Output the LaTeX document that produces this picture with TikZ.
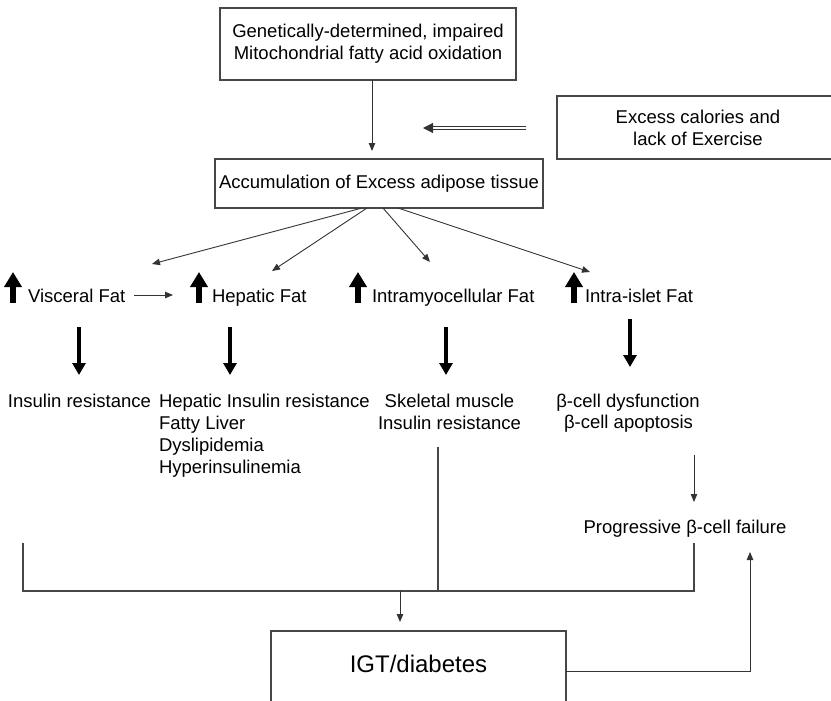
\documentclass[tikz,border=0pt]{standalone}
\usepackage{fontspec}
\setmainfont{Liberation Sans}
\usetikzlibrary{arrows.meta,calc}
\begin{document}
\begin{tikzpicture}[x=1pt,y=-1pt,
  every node/.style={font=\fontsize{18.5}{22.2}\selectfont, inner sep=0pt, outer sep=0pt},
  box/.style={draw=black!72, line width=1.3pt},
  conn/.style={draw=black!72, line width=1.1pt},
  tarr/.style={draw=black!80, line width=0.9pt, -{Triangle[width=6.5pt,length=8pt]}},
  dbl/.style={draw=black!80, line width=0.8pt, double=white, double distance=1.8pt, -{Triangle[width=10pt,length=10pt]}},
  uparr/.style={line width=6pt, -{Triangle[width=17pt,length=15pt]}},
  dnarr/.style={line width=4.5pt, -{Triangle[width=13pt,length=12pt]}},
]
\useasboundingbox (0,0) rectangle (831,701);
\clip (0,0) rectangle (831,701);

% boxes
\node[box, minimum width=296pt, minimum height=72pt, align=center] (top) at (368,44)
  {Genetically-determined, impaired\\Mitochondrial fatty acid oxidation};
\node[box, minimum width=328pt, minimum height=49pt] (acc) at (379,183.5)
  {Accumulation of Excess adipose tissue};
\node[box, minimum width=282pt, minimum height=63pt, align=center] (exc) at (698,127.5)
  {Excess calories and\\lack of Exercise};

\draw[tarr] ($(top.south)+(4,0)$) -- ($(acc.north)+(-7,-8)$);
\draw[dbl] ($(exc.west)+(-31,0.5)$) -- ($(exc.west)+(-134,0.5)$);

% fat row
\node[anchor=base west] (vis) at (28,302) {Visceral Fat};
\node[anchor=base west] (hep) at (212,302) {Hepatic Fat};
\node[anchor=base west] (imc) at (372,302) {Intramyocellular Fat};
\node[anchor=base west] (isl) at (585,302) {Intra-islet Fat};

\draw[uparr] ($(vis.base west)+(-15,1)$) -- ++(0,-31);
\draw[uparr] ($(hep.base west)+(-13,1)$) -- ++(0,-31);
\draw[uparr] ($(imc.base west)+(-14,1)$) -- ++(0,-31);
\draw[uparr] ($(isl.base west)+(-11,1)$) -- ++(0,-31);

\coordinate (t1) at (152,264);
\coordinate (t2) at (272,271);
\coordinate (t3) at (430,262);
\coordinate (t4) at (590,272);
\draw[tarr] ($(acc.south)+(-17,0)$) -- (t1);
\draw[tarr] ($(acc.south)+(-12,0)$) -- (t2);
\draw[tarr] ($(acc.south)+(4,0)$) -- (t3);
\draw[tarr] ($(acc.south)+(19,0)$) -- (t4);

\draw[tarr] ($(vis.base east)+(9,-7)$) -- ($(hep.base west)+(-39,-7)$);

% thick down arrows
\draw[dnarr] (79,327) -- (79,375);
\draw[dnarr] (230,327) -- (230,375);
\draw[dnarr] (446,327) -- (446,375);
\draw[dnarr] (630,319) -- (630,367);

% outcomes
\node[anchor=base west] (ir) at (8,407) {Insulin resistance};
\node[anchor=base west] (hir1) at (159,407) {Hepatic Insulin resistance};
\node[anchor=base west] (hir2) at (159,429.3) {Fatty Liver};
\node[anchor=base west] (hir3) at (159,451.6) {Dyslipidemia};
\node[anchor=base west] (hir4) at (159,473.5) {Hyperinsulinemia};
\node[anchor=base] (sk1) at (449.5,407) {Skeletal muscle};
\node[anchor=base] (sk2) at (449.5,429) {Insulin resistance};
\node[anchor=base] (bc1) at (628,407) {β-cell dysfunction};
\node[anchor=base] (bc2) at (628.5,428.5) {β-cell apoptosis};
\node[anchor=base] (prog) at (685,533.5) {Progressive β-cell failure};

\coordinate (bcs) at (694,455);
\coordinate (bce) at (694,502);
\draw[tarr] (bcs) -- (bce);

% bracket to IGT
\coordinate (bl) at (23,543);
\coordinate (br) at (694,543);
\coordinate (sk) at (438,447);
\draw[conn] (bl) -- (23,591) -- (694,591) -- (br);
\draw[conn] (sk) -- (438,591);

\node[box, minimum width=295pt, minimum height=100pt] (igt) at (418.5,681) {};
\node[anchor=base, font=\fontsize{24}{28}\selectfont] (igtt) at (418.5,672.7) {IGT/diabetes};

\draw[tarr] (400,591) -- (400,622);
\draw[tarr] ($(igt.east)+(0,-10)$) -- (750,671) -- (750,552);
\end{tikzpicture}
\end{document}
